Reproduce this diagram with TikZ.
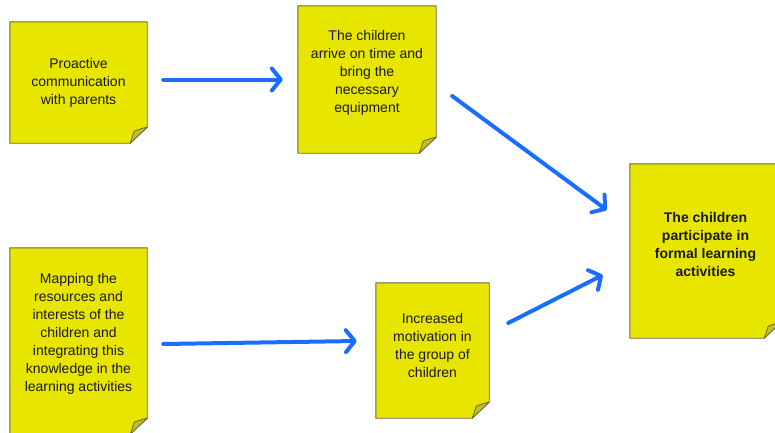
\documentclass[tikz,border=0pt]{standalone}
\usepackage{fontspec}
\setmainfont{Liberation Sans}
\usetikzlibrary{arrows.meta}
\definecolor{stickyfill}{RGB}{232,230,0}
\definecolor{stickyline}{RGB}{105,105,60}
\definecolor{foldfill}{RGB}{196,190,40}
\definecolor{arrowblue}{RGB}{25,110,255}
\newcommand\stickyshape[1]{%
  \filldraw[fill=stickyfill,draw=stickyline,line width=0.9pt]
    (#1.north west) -- (#1.north east) -- ([yshift=16pt]#1.south east)
    -- ([xshift=-17pt]#1.south east) -- (#1.south west) -- cycle;
  \filldraw[fill=foldfill,draw=stickyline,line width=0.8pt,line join=round]
    ([yshift=16pt]#1.south east)
    .. controls ([xshift=-5pt,yshift=15pt]#1.south east) .. ([xshift=-13pt,yshift=12pt]#1.south east)
    -- ([xshift=-17pt]#1.south east) -- cycle;
}
\begin{document}
\begin{tikzpicture}[x=1pt,y=-1pt,
  boxnode/.style={rectangle, inner sep=0pt, draw=none},
  txt/.style={font=\fontsize{14}{18}\selectfont, align=center, text=black!90, inner sep=0pt},
  arr/.style={draw=arrowblue, line width=4pt, line cap=round,
    -{Straight Barb[length=9pt,width=22pt,round]}}
]
\useasboundingbox (0,0) rectangle (775,432);

\node[boxnode, minimum width=137pt, minimum height=121pt] (A) at (78.5,82.5) {};
\node[boxnode, minimum width=138pt, minimum height=147pt] (B) at (367,79.5) {};
\node[boxnode, minimum width=151pt, minimum height=174pt] (C) at (705.5,251) {};
\node[boxnode, minimum width=137pt, minimum height=186pt] (D) at (78.5,341) {};
\node[boxnode, minimum width=113pt, minimum height=135pt] (E) at (432.5,350.5) {};

\stickyshape{A}
\stickyshape{B}
\stickyshape{C}
\stickyshape{D}
\stickyshape{E}

\node[txt] (At) at ([yshift=0pt]A.center) {Proactive\\communication\\with parents};
\node[txt] (Bt) at ([yshift=6.5pt]B.center) {The children\\arrive on time and\\bring the\\necessary\\equipment};
\node[txt, font=\fontsize{14}{18}\selectfont\bfseries] (Ct) at ([yshift=7pt]C.center) {The children\\participate in\\formal learning\\activities};
\node[txt] (Dt) at ([yshift=7pt]D.center) {Mapping the\\resources and\\interests of the\\children and\\integrating this\\knowledge in the\\learning activities};
\node[txt] (Et) at ([yshift=5.5pt]E.center) {Increased\\motivation in\\the group of\\children};

\draw[arr] ([xshift=16pt]A.east |- B.west) -- ([xshift=-15pt]B.west);
\draw[arr] ([xshift=16pt,yshift=-16.5pt]B.east) -- ([xshift=-23pt,yshift=41pt]C.west);
\draw[arr] ([xshift=16pt,yshift=-3pt]D.east) -- ([xshift=-19pt,yshift=9.5pt]E.west);
\draw[arr] ([xshift=19pt,yshift=27.5pt]E.east) -- ([xshift=-27pt,yshift=-24pt]C.west);
\end{tikzpicture}
\end{document}
